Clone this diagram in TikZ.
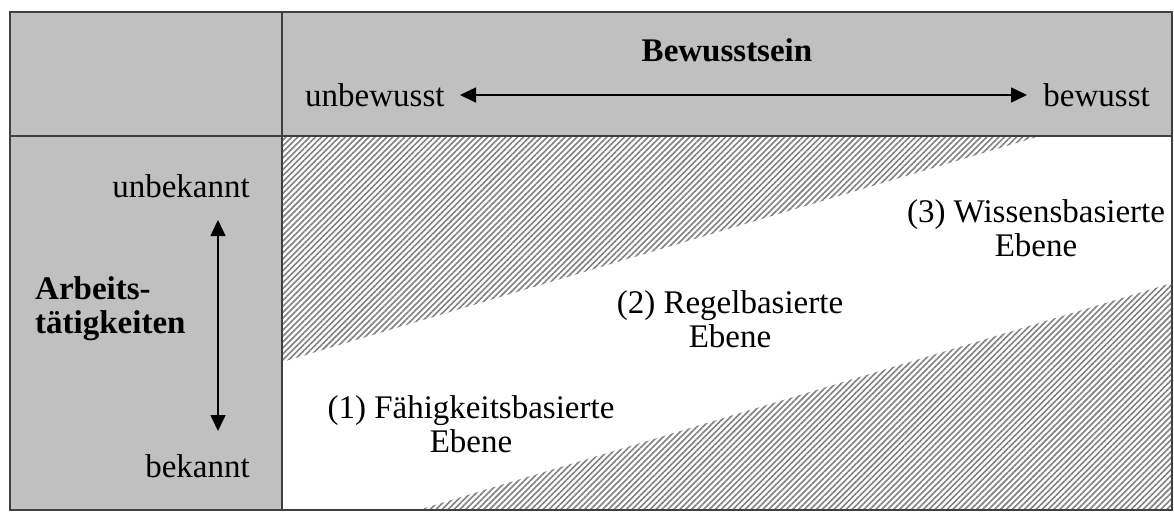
\documentclass[tikz,border=0pt]{standalone}
\usepackage{fontspec}
\setmainfont{Liberation Serif}
\usetikzlibrary{patterns.meta}
\usetikzlibrary{arrows.meta}
\definecolor{cellgray}{HTML}{C0C0C0}
\definecolor{framegray}{HTML}{404040}
\definecolor{hatchgray}{HTML}{808080}

\begin{document}
\begin{tikzpicture}[x=1pt, y=-1pt,
    txt/.style = {font=\fontsize{33}{34}\selectfont, inner sep=0pt, align=center},
    hatch/.style = {pattern={Lines[angle=45, distance=4.2pt, line width=1.6pt]},
                pattern color=hatchgray},
    frame/.style = {draw=framegray, line width=1.6pt},
    dblarrow/.style = {{Triangle[length=16pt, width=15pt]}-{Triangle[length=16pt, width=15pt]},
                line width=1.6pt}  % arrows of the two axes
                    ]
        \useasboundingbox (0,0) rectangle (1174,512);
        \def\xl{10};   % left border
        \def\xm{282};  % vertical divider
        \def\xr{1172}; % right border
        \def\yt{12};   % top border
        \def\ym{136};  % horizontal divider
        \def\yb{510};  % bottom border
        % grey head cells
        \fill[cellgray] (\xl,\yt) rectangle (\xr,\ym);
        \fill[cellgray] (\xl,\ym) rectangle (\xm,\yb);
        % hatched triangles
        \fill[hatch] (\xm,\ym) -- (1040,\ym) -- (\xm,362) -- cycle;
        \fill[hatch] (\xr,283) -- (\xr,\yb) -- (418,\yb) -- cycle;
        % frame
        \draw[frame] (\xl,\yt) rectangle (\xr,\yb);
        \draw[frame] (\xm,\yt) -- (\xm,\yb);
        \draw[frame] (\xl,\ym) -- (\xr,\ym);
        % head row
        \node[txt, font=\fontsize{33}{34}\selectfont\bfseries] (bewusstsein) at (727,50) {Bewusstsein};
        \node[txt, anchor=west] (unbewusst) at (305,95) {unbewusst};
        \node[txt, anchor=east] (bewusst) at (1150,95) {bewusst};
        \coordinate (hl) at (460,95);
        \coordinate (hr) at (1027,95);
        \draw[dblarrow] (hl) -- (hr);
        % head column
        \node[txt, anchor=east] (unbekannt) at (250,186) {unbekannt};
        \node[txt, anchor=east] (bekannt) at (250,466) {bekannt};
        \node[txt, anchor=west, align=left, font=\fontsize{33}{34}\selectfont\bfseries]
            (arbeit) at (35,309) {Arbeits-\\tätigkeiten};
        \coordinate (vt) at (218,220);
        \coordinate (vb) at (218,431);
        \draw[dblarrow] (vt) -- (vb);
        % levels
        \foreach \x/\y/\n/\t in {471/424/ebene1/(1) Fähigkeitsbasierte,
                                 730/319/ebene2/(2) Regelbasierte,
                                 1036/228/ebene3/(3) Wissensbasierte}
            \node[txt] (\n) at (\x,\y) {\t\\Ebene};
    \end{tikzpicture}
\end{document}
